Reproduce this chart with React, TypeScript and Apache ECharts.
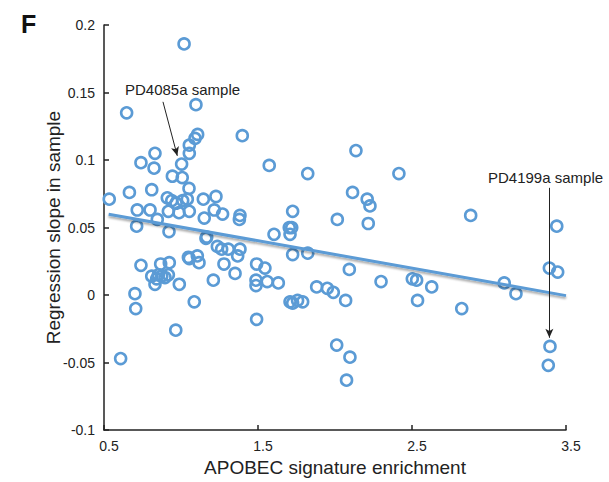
import React, { useEffect, useRef } from "react";
import * as echarts from "echarts";

// APOBEC signature enrichment (x) and regression slope in sample (y), one entry per sample
const enrichment = [
  1.02, 0.647, 1.097, 1.108, 1.091, 1.054, 1.398, 0.831, 1.054, 0.74,
  0.825, 1.004, 0.944, 1.008, 1.052, 0.81, 0.665, 0.534, 0.911, 0.94,
  0.968, 1.011, 1.041, 1.145, 1.227, 0.716, 0.799, 0.918, 0.987, 1.054,
  1.216, 1.27, 1.151, 1.383, 1.379, 0.846, 0.712, 0.922, 1.167, 1.162,
  1.236, 1.264, 1.307, 1.383, 1.368, 1.491, 1.054, 1.048, 1.106, 1.117,
  0.74, 0.868, 0.924, 1.279, 1.351, 0.81, 0.842, 0.853, 0.875, 0.896,
  0.918, 0.831, 0.989, 1.21, 1.487, 1.487, 0.701, 0.706, 1.086, 0.966,
  1.491, 0.608, 2.136, 1.573, 1.823, 2.415, 2.114, 2.209, 2.227, 1.725,
  2.015, 2.216, 1.703, 1.719, 1.708, 1.604, 1.725, 1.823, 1.545, 1.56,
  1.632, 2.093, 1.881, 1.95, 1.989, 2.069, 1.708, 1.725, 1.757, 1.79,
  2.299, 2.502, 2.53, 2.536, 2.011, 2.097, 2.075, 2.881, 3.44, 3.392,
  3.446, 2.628, 2.823, 3.099, 3.175, 3.396, 3.385,
];
const slope = [
  0.186, 0.135, 0.141, 0.119, 0.116, 0.111, 0.118, 0.105, 0.105, 0.098,
  0.094, 0.097, 0.088, 0.087, 0.079, 0.078, 0.076, 0.071, 0.072, 0.07,
  0.068, 0.07, 0.071, 0.071, 0.073, 0.063, 0.063, 0.062, 0.061, 0.062,
  0.063, 0.06, 0.057, 0.059, 0.056, 0.056, 0.051, 0.047, 0.043, 0.042,
  0.036, 0.034, 0.034, 0.034, 0.029, 0.023, 0.027, 0.028, 0.029, 0.024,
  0.022, 0.023, 0.024, 0.023, 0.016, 0.014, 0.012, 0.015, 0.014, 0.013,
  0.015, 0.008, 0.008, 0.011, 0.011, 0.007, 0.001, -0.01, -0.005, -0.026,
  -0.018, -0.047, 0.107, 0.096, 0.09, 0.09, 0.076, 0.071, 0.066, 0.062,
  0.056, 0.053, 0.05, 0.05, 0.045, 0.045, 0.03, 0.031, 0.02, 0.01,
  0.009, 0.019, 0.006, 0.005, 0.002, -0.004, -0.005, -0.006, -0.004, -0.005,
  0.01, 0.012, 0.011, -0.004, -0.037, -0.046, -0.063, 0.059, 0.051, 0.02,
  0.017, 0.006, -0.01, 0.009, 0.001, -0.038, -0.052,
];

// axis tick labels
const xTicks = [0.5, 1.5, 2.5, 3.5];

// linear regression fit line end points
const fitX = [0.53, 3.5];
const fitY = [0.0599, -0.0004];

// annotation arrows (data space): [tailX, tailY, headX, headY]
const arrowPD4085a = [0.883, 0.1431, 0.976, 0.1031];
const arrowPD4199a = [3.392, 0.0794, 3.392, -0.0316];

const FONT = "Liberation Sans, Arial, Helvetica, sans-serif";
const BLUE = "#5b9bd5";

export default function App() {
  const ref = useRef<HTMLDivElement>(null);
  useEffect(() => {
    const chart = echarts.init(ref.current!, null, { renderer: "svg" });
    const arrow = (a: number[]) => [
      { coord: [a[0], a[1]], symbol: "none" },
      { coord: [a[2], a[3]], symbol: "arrow" },
    ];
    chart.setOption({
      animation: false,
      backgroundColor: "#fff",
      textStyle: { fontFamily: FONT },
      grid: { left: 104, right: 43, top: 25, bottom: 47, containLabel: false },
      xAxis: {
        type: "value",
        min: 0.5,
        max: 3.5,
        name: "APOBEC signature enrichment",
        nameLocation: "middle",
        nameGap: 23,
        nameTextStyle: { fontSize: 19, color: "#222", fontFamily: FONT },
        axisLine: { show: true, onZero: false, lineStyle: { color: "#222", width: 1.5 } },
        axisTick: { show: true, inside: true, length: 5, customValues: xTicks, lineStyle: { color: "#222", width: 1.5 } },
        axisLabel: { customValues: xTicks, fontSize: 14, color: "#222", margin: 9, padding: [0, 0, 0, 10], fontFamily: FONT },
        splitLine: { show: false },
      },
      yAxis: {
        type: "value",
        min: -0.1,
        max: 0.2,
        interval: 0.05,
        name: "Regression slope in sample",
        nameLocation: "middle",
        nameGap: 41,
        nameMoveOverlap: false,
        nameTextStyle: { fontSize: 19, color: "#222", fontFamily: FONT },
        axisLine: { show: true, onZero: false, lineStyle: { color: "#222", width: 1.5 } },
        axisTick: { show: true, inside: true, length: 5, lineStyle: { color: "#222", width: 1.5 } },
        axisLabel: { fontSize: 14, color: "#222", margin: 9, padding: [3, 0, 0, 0], fontFamily: FONT },
        splitLine: { show: false },
      },
      series: [
        {
          type: "scatter",
          data: enrichment.map((x, i) => [x, slope[i]]),
          symbol: "circle",
          symbolSize: 11,
          itemStyle: { color: "rgba(255,255,255,0)", borderColor: BLUE, borderWidth: 2.6, opacity: 1 },
          emphasis: { disabled: true },
          z: 2,
        },
        {
          type: "line",
          data: fitX.map((x, i) => [x, fitY[i]]),
          symbol: "none",
          lineStyle: {
            color: BLUE,
            width: 3,
            shadowColor: "rgba(0,0,0,0.35)",
            shadowBlur: 2,
            shadowOffsetY: 2,
          },
          emphasis: { disabled: true },
          z: 3,
          markLine: {
            silent: true,
            symbolSize: [6, 9],
            label: { show: false },
            lineStyle: { color: "#222", width: 1, type: "solid" },
            emphasis: { disabled: true },
            data: [arrow(arrowPD4085a), arrow(arrowPD4199a)],
          },
        },
      ],
      graphic: [
        {
          type: "text",
          left: 21,
          top: 11,
          style: { text: "F", font: `bold 25px ${FONT}`, fill: "#111" },
        },
        {
          type: "text",
          left: 125,
          top: 82,
          style: { text: "PD4085a sample", font: `15px ${FONT}`, fill: "#222" },
        },
        {
          type: "text",
          left: 488,
          top: 170,
          style: { text: "PD4199a sample", font: `15px ${FONT}`, fill: "#222" },
        },
      ],
    });
    return () => chart.dispose();
  }, []);
  return (
    <div
      ref={ref}
      style={{ position: "absolute", left: 0, top: 0, width: 609, height: 482 }}
    />
  );
}
